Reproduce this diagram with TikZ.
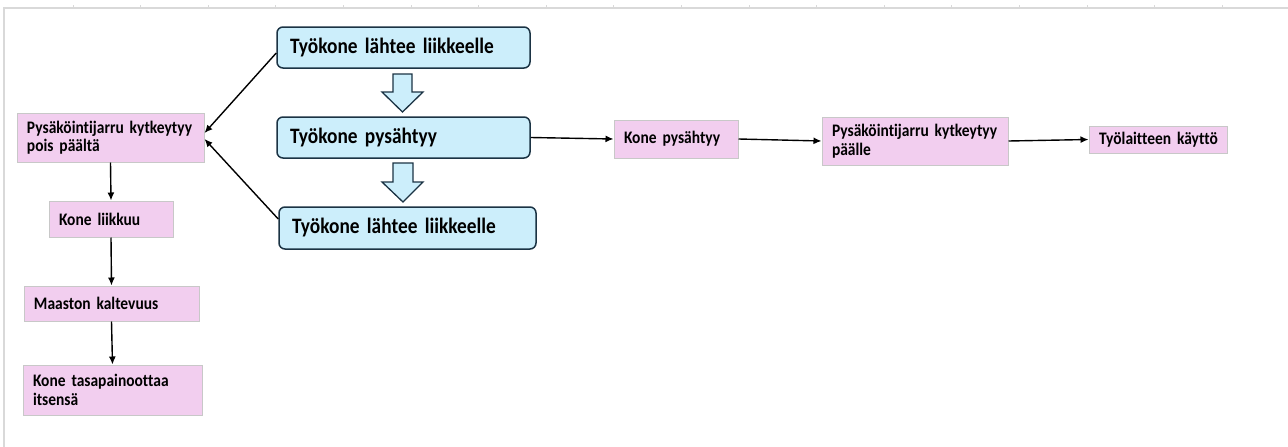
\documentclass[tikz,border=0pt]{standalone}
\usepackage{fontspec}
\setmainfont{Carlito}[FakeStretch=0.88, Ligatures=NoCommon, WordSpace=0.75]
\usetikzlibrary{arrows.meta}
\definecolor{bluefill}{HTML}{CCEEFB}
\definecolor{blueline}{HTML}{1B3344}
\definecolor{pinkfill}{HTML}{F2CEEF}
\definecolor{pinkline}{HTML}{C8C8C8}
\definecolor{framegray}{HTML}{D9D9D9}
\tikzset{
  bluebox/.style={draw=blueline, fill=bluefill, line width=1.5pt, rounded corners=6pt,
    inner xsep=13pt, inner ysep=0pt, align=left, font=\fontsize{22}{24}\selectfont\bfseries},
  pinkbox/.style={draw=pinkline, fill=pinkfill, line width=1pt,
    inner xsep=10pt, inner ysep=0pt, align=left, font=\fontsize{17.6}{18.5}\selectfont\bfseries},
  conn/.style={line width=1.4pt, -{Latex[length=8pt,width=7pt]}},
  blockarrow/.style={draw=blueline, fill=bluefill, line width=1.3pt, line join=miter}
}
\begin{document}
\begin{tikzpicture}[x=1pt,y=-1pt]
\useasboundingbox (0,0) rectangle (1288,447);
% frame
\draw[framegray, line width=1.2pt] (4,447) -- (4,8) -- (1288,8);
\foreach \k in {0,...,17}{
  \draw[framegray, line width=1pt] ({73+67.6*\k},5) -- ({73+67.6*\k},8);
}
% blue boxes
\node[bluebox, minimum width=253pt, minimum height=41pt, text width=227pt] (b1) at (403.5,47.5) {\mbox{Työkone lähtee liikkeelle}};
\node[bluebox, minimum width=253pt, minimum height=41pt, text width=227pt] (b2) at (403.5,137.5) {\mbox{Työkone pysähtyy}};
\node[bluebox, minimum width=257pt, minimum height=42pt, text width=231pt] (b3) at (407.5,228) {\mbox{Työkone lähtee liikkeelle}};
% block arrows
\draw[blockarrow] (393,74) -- (412,74) -- (412,92) -- (423,92) -- (402.5,112) -- (382,92) -- (393,92) -- cycle;
\draw[blockarrow] (393,163) -- (413,163) -- (413,182) -- (423,182) -- (403,202) -- (382,182) -- (393,182) -- cycle;
% pink boxes
\node[pinkbox, minimum width=187pt, minimum height=49pt, text width=167pt] (p1) at (110.5,137.5) {\mbox{Pysäköintijarru kytkeytyy}\\pois päältä};
\node[pinkbox, minimum width=124pt, minimum height=36pt, text width=104pt] (p2) at (111,219) {\mbox{Kone liikkuu}};
\node[pinkbox, minimum width=175pt, minimum height=35pt, text width=155pt] (p3) at (111.5,303.5) {\mbox{Maaston kaltevuus}};
\node[pinkbox, minimum width=179pt, minimum height=50pt, text width=159pt] (p4) at (112.5,390) {\mbox{Kone tasapainoottaa}\\itsensä};
\node[pinkbox, minimum width=124pt, minimum height=38pt, text width=104pt] (p5) at (676,139) {\mbox{Kone pysähtyy}};
\node[pinkbox, minimum width=186pt, minimum height=48pt, text width=166pt] (p6) at (915,141) {\mbox{Pysäköintijarru kytkeytyy}\\päälle};
\node[pinkbox, minimum width=138pt, minimum height=27pt, text width=118pt] (p7) at (1158,139.5) {\mbox{Työlaitteen käyttö}};
% connectors
\draw[conn] ([yshift=-5.5pt]b1.west) -- ([yshift=4.5pt]p1.east);
\draw[conn] ([yshift=9pt]b3.west) -- ([yshift=-1.5pt]p1.east);
\draw[conn] (p1.south) -- (p2.north);
\draw[conn] (p2.south) -- (p3.north);
\draw[conn] (p3.south) -- (p4.north);
\draw[conn] (b2.east) -- (p5.west);
\draw[conn] (p5.east) -- (p6.west);
\draw[conn] (p6.east) -- (p7.west);
\end{tikzpicture}
\end{document}
